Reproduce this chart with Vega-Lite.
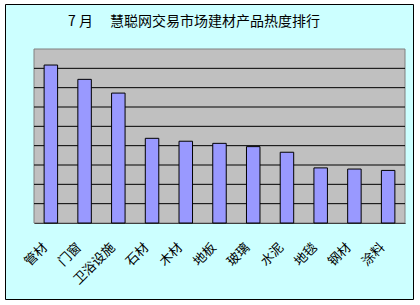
{
  "$schema": "https://vega.github.io/schema/vega-lite/v6.json",
  "width": 408,
  "height": 295,
  "autosize": {"type": "none"},
  "padding": {"left": 5, "top": 4, "right": 7, "bottom": 6},
  "background": "white",
  "config": {
    "view": {"fill": "#CCFFFF", "stroke": "black", "strokeWidth": 1},
    "font": "Noto Sans CJK SC"
  },
  "title": {
    "text": "7  月 　慧聪网交易市场建材产品热度排行",
    "orient": "top",
    "anchor": "start",
    "frame": "group",
    "dx": 63,
    "offset": -25,
    "fontSize": 14,
    "fontWeight": "normal",
    "font": "Noto Sans CJK SC",
    "color": "black"
  },
  "resolve": {"scale": {"x": "independent"}, "axis": {"x": "independent"}},
  "layer": [
    {
      "data": {"values": [{"a": 0, "b": 1, "lo": 0, "hi": 9}]},
      "mark": {"type": "rect", "fill": "#C0C0C0", "stroke": "#808080", "strokeWidth": 1},
      "encoding": {
        "x": {"field": "a", "type": "quantitative", "scale": {"domain": [0, 1], "range": [29, 400]}, "axis": null},
        "x2": {"field": "b"},
        "y": {"field": "lo", "type": "quantitative", "scale": {"domain": [0, 9], "range": [219, 45]}, "axis": null},
        "y2": {"field": "hi"}
      }
    },
    {
      "data": {"values": [{"g": 1, "a": 0, "b": 1}, {"g": 2, "a": 0, "b": 1}, {"g": 3, "a": 0, "b": 1}, {"g": 4, "a": 0, "b": 1}, {"g": 5, "a": 0, "b": 1}, {"g": 6, "a": 0, "b": 1}, {"g": 7, "a": 0, "b": 1}, {"g": 8, "a": 0, "b": 1}]},
      "mark": {"type": "rule", "color": "black", "strokeWidth": 1},
      "encoding": {
        "x": {"field": "a", "type": "quantitative", "scale": {"domain": [0, 1], "range": [29, 400]}, "axis": null},
        "x2": {"field": "b"},
        "y": {"field": "g", "type": "quantitative", "scale": {"domain": [0, 9], "range": [219, 45]}, "axis": null}
      }
    },
    {
      "data": {"values": [
        {"cat": "管材", "v": 8.17},
        {"cat": "门窗", "v": 7.43},
        {"cat": "卫浴设施", "v": 6.72},
        {"cat": "石材", "v": 4.38},
        {"cat": "木材", "v": 4.23},
        {"cat": "地板", "v": 4.12},
        {"cat": "玻璃", "v": 3.95},
        {"cat": "水泥", "v": 3.66},
        {"cat": "地毯", "v": 2.85},
        {"cat": "钢材", "v": 2.79},
        {"cat": "涂料", "v": 2.72}
      ]},
      "mark": {"type": "bar", "fill": "#9999FF", "stroke": "black", "strokeWidth": 1},
      "encoding": {
        "x": {
          "field": "cat", "type": "nominal", "sort": null,
          "scale": {"range": [29, 400], "paddingInner": 0.6, "paddingOuter": 0.3},
          "axis": {
            "title": null,
            "offset": -76,
            "domain": true, "domainColor": "black", "domainWidth": 1,
            "ticks": true, "tickColor": "black", "tickSize": -4, "tickBand": "extent",
            "grid": false,
            "labelAngle": -45, "labelAlign": "right", "labelBaseline": "middle",
            "labelFont": "Noto Sans CJK SC", "labelFontSize": 13, "labelColor": "black",
            "labelPadding": 26, "labelOffset": -6, "labelOverlap": false
          }
        },
        "y": {"field": "v", "type": "quantitative", "scale": {"domain": [0, 9], "range": [219, 45]}, "axis": null}
      }
    }
  ]
}
